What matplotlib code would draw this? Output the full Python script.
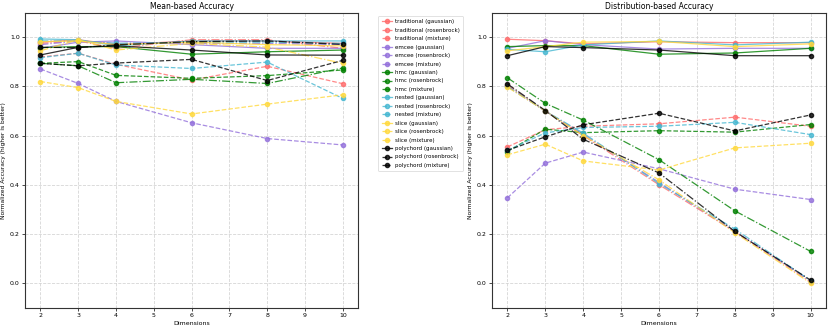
import matplotlib
matplotlib.use("Agg")
import matplotlib.pyplot as plt

dims = [2, 3, 4, 6, 8, 10]
methods = ["traditional", "emcee", "hmc", "nested", "slice", "polychord"]
problems = ["gaussian", "rosenbrock", "mixture"]
colors = {"traditional": "#FF6B6B", "emcee": "#9370DB", "hmc": "green",
          "nested": "#45B7D1", "slice": "#FFD93D", "polychord": "black"}
styles = {"gaussian": "-", "rosenbrock": "--", "mixture": "-."}

# Mean-based accuracy
mean_traditional_gaussian = [0.980, 0.990, 0.970, 0.985, 0.985, 0.975]
mean_traditional_rosenbrock = [0.920, 0.935, 0.890, 0.826, 0.882, 0.811]
mean_traditional_mixture = [0.975, 0.985, 0.955, 0.990, 0.990, 0.955]
mean_emcee_gaussian = [0.955, 0.980, 0.985, 0.970, 0.955, 0.955]
mean_emcee_rosenbrock = [0.871, 0.812, 0.739, 0.652, 0.588, 0.562]
mean_emcee_mixture = [0.970, 0.985, 0.975, 0.975, 0.975, 0.970]
mean_hmc_gaussian = [0.958, 0.962, 0.962, 0.931, 0.941, 0.948]
mean_hmc_rosenbrock = [0.894, 0.901, 0.845, 0.833, 0.844, 0.867]
mean_hmc_mixture = [0.894, 0.884, 0.815, 0.829, 0.812, 0.875]
mean_nested_gaussian = [0.993, 0.990, 0.965, 0.985, 0.985, 0.985]
mean_nested_rosenbrock = [0.917, 0.935, 0.887, 0.873, 0.899, 0.751]
mean_nested_mixture = [0.985, 0.985, 0.975, 0.980, 0.980, 0.975]
mean_slice_gaussian = [0.982, 0.985, 0.970, 0.980, 0.970, 0.965]
mean_slice_rosenbrock = [0.820, 0.795, 0.739, 0.688, 0.728, 0.766]
mean_slice_mixture = [0.945, 0.990, 0.948, 0.975, 0.960, 0.894]
mean_polychord_gaussian = [0.928, 0.959, 0.965, 0.948, 0.928, 0.927]
mean_polychord_rosenbrock = [0.894, 0.884, 0.895, 0.910, 0.824, 0.906]
mean_polychord_mixture = [0.959, 0.958, 0.969, 0.982, 0.985, 0.971]

# Distribution-based accuracy
dist_traditional_gaussian = [0.992, 0.986, 0.973, 0.982, 0.978, 0.978]
dist_traditional_rosenbrock = [0.554, 0.624, 0.638, 0.648, 0.675, 0.638]
dist_traditional_mixture = [0.805, 0.700, 0.600, 0.400, 0.210, 0.005]
dist_emcee_gaussian = [0.955, 0.986, 0.970, 0.952, 0.955, 0.955]
dist_emcee_rosenbrock = [0.347, 0.488, 0.533, 0.465, 0.382, 0.340]
dist_emcee_mixture = [0.800, 0.700, 0.605, 0.410, 0.210, 0.010]
dist_hmc_gaussian = [0.962, 0.966, 0.966, 0.931, 0.936, 0.955]
dist_hmc_rosenbrock = [0.535, 0.626, 0.612, 0.620, 0.614, 0.645]
dist_hmc_mixture = [0.835, 0.731, 0.663, 0.502, 0.294, 0.129]
dist_nested_gaussian = [0.951, 0.941, 0.969, 0.985, 0.969, 0.980]
dist_nested_rosenbrock = [0.540, 0.611, 0.633, 0.638, 0.654, 0.604]
dist_nested_mixture = [0.800, 0.700, 0.610, 0.405, 0.220, 0.010]
dist_slice_gaussian = [0.945, 0.962, 0.980, 0.983, 0.962, 0.973]
dist_slice_rosenbrock = [0.522, 0.565, 0.497, 0.460, 0.550, 0.569]
dist_slice_mixture = [0.797, 0.700, 0.600, 0.420, 0.205, 0.000]
dist_polychord_gaussian = [0.925, 0.962, 0.958, 0.948, 0.925, 0.925]
dist_polychord_rosenbrock = [0.540, 0.595, 0.644, 0.691, 0.619, 0.684]
dist_polychord_mixture = [0.810, 0.702, 0.585, 0.448, 0.210, 0.012]

g = globals()

fig = plt.figure(figsize=(8.3, 3.3), dpi=100)
ax1 = fig.add_axes([0.0305, 0.0676, 0.4008, 0.894])
ax2 = fig.add_axes([0.5931, 0.0676, 0.4018, 0.894])

for ax, prefix, title in [(ax1, "mean", "Mean-based Accuracy"),
                          (ax2, "dist", "Distribution-based Accuracy")]:
    for m in methods:
        for p in problems:
            vals = g[f"{prefix}_{m}_{p}"]
            ax.plot(dims, vals, linestyle=styles[p], color=colors[m], marker="o",
                    markersize=3, linewidth=0.9, alpha=0.8,
                    label=f"{m} ({p})")
    ax.set_ylim(-0.1, 1.1)
    ax.set_xticks(range(2, 11))
    ax.set_yticks([0.0, 0.2, 0.4, 0.6, 0.8, 1.0])
    ax.grid(True, linestyle="--", color="#cccccc", linewidth=0.6, alpha=0.8)
    ax.set_title(title, fontsize=5.5, pad=3)
    ax.set_xlabel("Dimensions", fontsize=4.5, labelpad=2)
    ax.set_ylabel("Normalized Accuracy (higher is better)", fontsize=4.3, labelpad=3)
    ax.tick_params(labelsize=4.5, length=2, width=0.5, pad=2)
    for s in ax.spines.values():
        s.set_linewidth(0.8)
        s.set_color("#333333")

handles, labels = ax1.get_legend_handles_labels()
leg = fig.legend(handles, labels, loc="upper left", bbox_to_anchor=(0.4558, 0.9515),
                 borderaxespad=0, fontsize=4.0, frameon=True, labelspacing=0.62,
                 handlelength=1.8, handletextpad=0.6, borderpad=0.6)
leg.get_frame().set_linewidth(0.5)

fig.savefig("out.png", dpi=100)
